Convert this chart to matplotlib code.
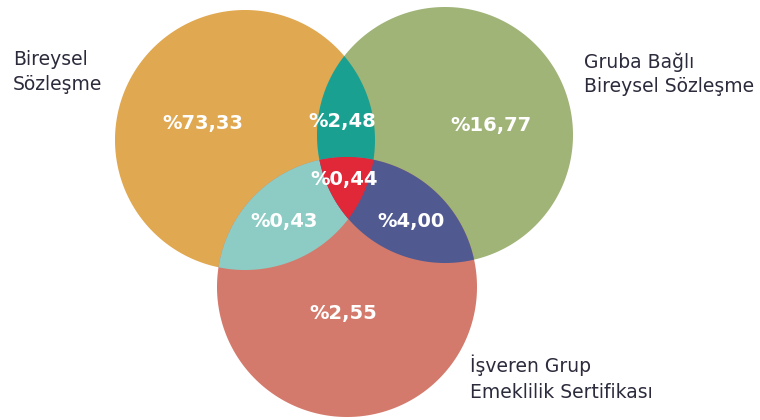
"""Üç sözleşme tipinin kesişim payları için Venn şeması."""

import numpy as np
import matplotlib.pyplot as plt
from matplotlib.patches import Polygon

# Küme adları
sets = ["Bireysel\nSözleşme", "Gruba Bağlı\nBireysel Sözleşme", "İşveren Grup\nEmeklilik Sertifikası"]

# Bölge payları (%): yalnız A, yalnız B, yalnız C, A∩B, A∩C, B∩C, A∩B∩C
regions = ["A", "B", "C", "AB", "AC", "BC", "ABC"]
shares = [73.33, 16.77, 2.55, 2.48, 0.43, 4.00, 0.44]

# Çember yerleşimi (piksel)
centers = {"A": (245, 140), "B": (445, 135), "C": (347, 287)}
radii = {"A": 130, "B": 128, "C": 130}

colors = {
    "A": "#E0A850",
    "B": "#A0B478",
    "C": "#D47A6C",
    "AB": "#1AA091",
    "AC": "#8CCCC4",
    "BC": "#505A91",
    "ABC": "#E02838",
}

label_pos = {
    "A": (203, 123), "B": (491, 126), "C": (343, 313),
    "AB": (342, 122), "AC": (284, 222), "BC": (411, 222), "ABC": (344, 179),
}


def inside(pt, key):
    cx, cy = centers[key]
    return (pt[0] - cx) ** 2 + (pt[1] - cy) ** 2 <= radii[key] ** 2 + 1e-6


def intersection(keys, n=2000):
    """Çemberlerin kesişimini dışbükey çokgen olarak döndürür."""
    pts = []
    t = np.linspace(0, 2 * np.pi, n, endpoint=False)
    for k in keys:
        cx, cy = centers[k]
        r = radii[k]
        for x, y in zip(cx + r * np.cos(t), cy + r * np.sin(t)):
            if all(inside((x, y), o) for o in keys if o != k):
                pts.append((x, y))
    pts = np.array(pts)
    m = pts.mean(axis=0)
    order = np.argsort(np.arctan2(pts[:, 1] - m[1], pts[:, 0] - m[0]))
    return pts[order]


fig = plt.figure(figsize=(7.6, 4.2), dpi=100)
ax = fig.add_axes([0, 0, 1, 1])
ax.set_xlim(0, 760)
ax.set_ylim(420, 0)
ax.set_aspect("equal")
ax.axis("off")

# Önce tekli çemberler, ardından kesişimler üstüne boyanır
for key in ["A", "B", "C", "AB", "AC", "BC", "ABC"]:
    poly = intersection(list(key))
    ax.add_patch(Polygon(poly, closed=True, facecolor=colors[key], edgecolor="none"))

for key, val in zip(regions, shares):
    x, y = label_pos[key]
    txt = "%" + f"{val:.2f}".replace(".", ",")
    ax.text(x, y, txt, ha="center", va="center", color="white",
            fontsize=14, fontweight="bold")

text_kw = dict(fontsize=13.5, color="#2B2B3C", ha="left", va="top", linespacing=1.4)
ax.text(13, 50, sets[0], **text_kw)
ax.text(584, 52, sets[1], **text_kw)
ax.text(470, 355, sets[2], **text_kw)

fig.savefig("out.png", dpi=100)
